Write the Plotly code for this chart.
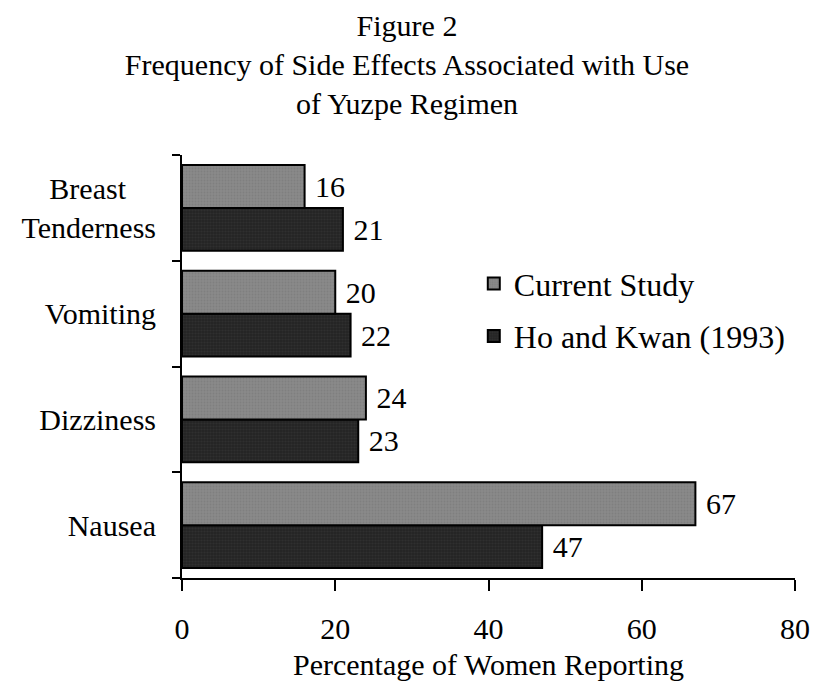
import plotly.graph_objects as go

categories = ["Nausea", "Dizziness", "Vomiting", "Breast Tenderness"]
tick_labels = ["Nausea", "Dizziness", "Vomiting", "Breast\u00a0\u00a0\u00a0\u00a0<br>Tenderness"]
current_study = [67, 24, 20, 16]
ho_kwan = [47, 23, 22, 21]
series_names = ["Current Study", "Ho and Kwan (1993)"]
x_ticks = [0, 20, 40, 60, 80]

FONT = "Liberation Serif, Times New Roman, serif"
FS = 30

fig = go.Figure()
fig.add_trace(go.Bar(
    y=categories, x=ho_kwan, name=series_names[1], orientation="h",
    marker=dict(color="#242424", line=dict(color="black", width=2),
                pattern=dict(shape=".", bgcolor="#242424", fgcolor="#3a3a3a", size=3, solidity=0.4)),
    text=[" " + str(v) for v in ho_kwan], textposition="outside",
    textfont=dict(family=FONT, size=FS, color="black"), cliponaxis=False,
    legendrank=2, legendgroup="b",
))
fig.add_trace(go.Bar(
    y=categories, x=current_study, name=series_names[0], orientation="h",
    marker=dict(color="#858585", line=dict(color="black", width=2),
                pattern=dict(shape=".", bgcolor="#8a8a8a", fgcolor="#747474", size=3, solidity=0.4)),
    text=[" " + str(v) for v in current_study], textposition="outside",
    textfont=dict(family=FONT, size=FS, color="black"), cliponaxis=False,
    legendrank=1, legendgroup="a",
))

fig.update_layout(
    width=814, height=681,
    paper_bgcolor="white", plot_bgcolor="white",
    barmode="group", bargap=0.19, bargroupgap=0,
    margin=dict(l=182, r=19, t=155, b=103),
    font=dict(family=FONT, size=FS, color="black"),
    title=dict(
        text="Figure 2<br>Frequency of Side Effects Associated with Use<br>of Yuzpe Regimen",
        x=0.5, xanchor="center", y=0.9467, yanchor="middle", yref="container",
        font=dict(family=FONT, size=FS, color="black"),
    ),
    legend=dict(x=0.476, y=0.761, xanchor="left", yanchor="top",
                font=dict(family=FONT, size=32), bgcolor="rgba(0,0,0,0)",
                itemwidth=30, tracegroupgap=8),
    showlegend=True,
)
fig.update_xaxes(
    range=[0, 80], tickvals=x_ticks, ticks="outside", ticklen=11, tickwidth=2,
    tickcolor="black", showline=True, linecolor="black", linewidth=2,
    showgrid=False, zeroline=False, ticklabelstandoff=12, automargin=False,
    tickfont=dict(family=FONT, size=FS),
    title=dict(text="Percentage of Women Reporting", font=dict(family=FONT, size=FS), standoff=12),
)
fig.update_yaxes(
    type="category", categoryorder="array", categoryarray=categories,
    tickvals=categories, ticktext=tick_labels,
    ticks="outside", tickson="boundaries", ticklen=8, tickwidth=2, tickcolor="black",
    showline=True, linecolor="black", linewidth=2, showgrid=False,
    ticklabelstandoff=18, automargin=False,
    tickfont=dict(family=FONT, size=FS),
)

fig.write_html("out.html", config={"displayModeBar": False},
               post_script="document.body.style.margin='0';document.body.style.overflow='hidden';")
